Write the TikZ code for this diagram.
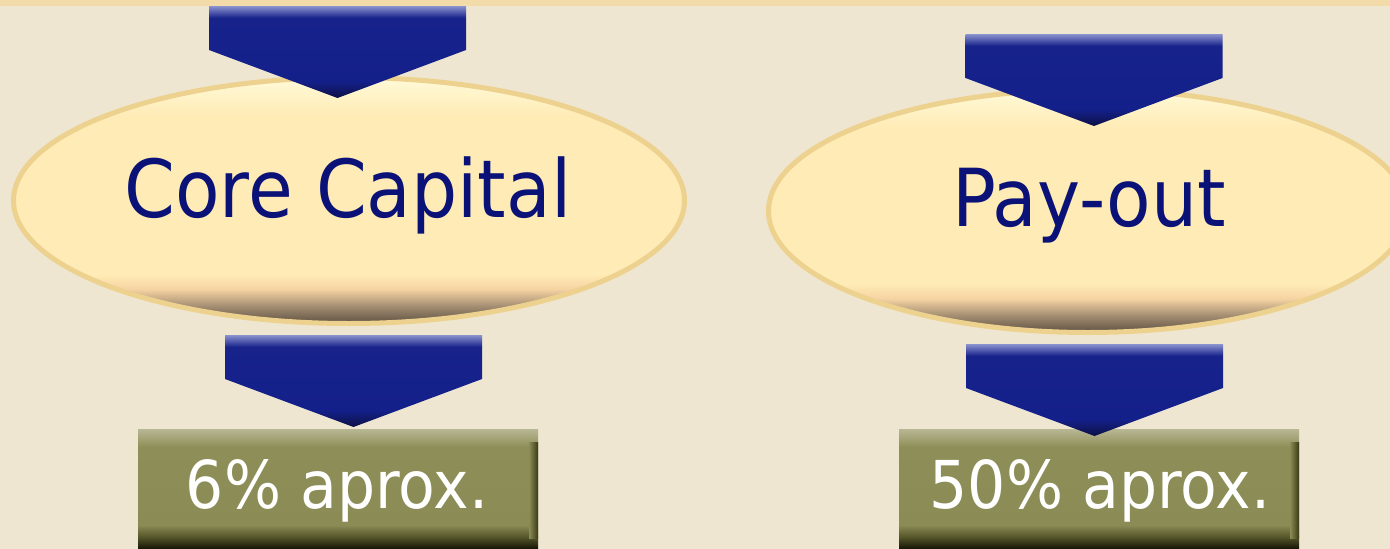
\documentclass[tikz,border=0pt]{standalone}
\usepackage{fontspec}
\setmainfont{DejaVu Sans}[FakeStretch=0.91]
\usetikzlibrary{shapes.geometric}
\definecolor{bg}{HTML}{EFE6D1}
\definecolor{band}{HTML}{F2DBA9}
\definecolor{navy}{HTML}{0A1277}
\definecolor{ellborder}{HTML}{EDD18F}
\definecolor{ellA}{HTML}{FFFAD8}
\definecolor{ellB}{HTML}{FFEBB5}
\definecolor{ellC}{HTML}{F6D3A2}
\definecolor{ellD}{HTML}{A38D72}
\definecolor{ellE}{HTML}{5E5040}
\definecolor{arrA}{HTML}{8B93CE}
\definecolor{arrB}{HTML}{17228B}
\definecolor{arrC}{HTML}{14208A}
\definecolor{arrD}{HTML}{0C1045}
\definecolor{boxA}{HTML}{B8B794}
\definecolor{boxB}{HTML}{8E8F58}
\definecolor{boxC}{HTML}{8A8B55}
\definecolor{boxD}{HTML}{55552A}
\definecolor{boxE}{HTML}{141405}
\definecolor{edgeA}{HTML}{3A3A16}
\pgfdeclareverticalshading{ellshade}{100bp}{color(0bp)=(ellE); color(25bp)=(ellE); color(28.5bp)=(ellD); color(32bp)=(ellC); color(35bp)=(ellB); color(67bp)=(ellB); color(75bp)=(ellA); color(100bp)=(ellA)}
\pgfdeclareverticalshading{arrowshade}{100bp}{color(0bp)=(arrD); color(25bp)=(arrD); color(34bp)=(arrC); color(68.5bp)=(arrB); color(75bp)=(arrA); color(100bp)=(arrA)}
\pgfdeclareverticalshading{boxshade}{100bp}{color(0bp)=(boxE); color(25bp)=(boxE); color(30bp)=(boxD); color(35bp)=(boxC); color(67.5bp)=(boxB); color(75bp)=(boxA); color(100bp)=(boxA)}
\tikzset{
  ellnode/.style={ellipse, draw=ellborder, line width=5pt, shading=ellshade, inner sep=0pt},
  greenbox/.style={rectangle, shading=boxshade, minimum width=400pt, minimum height=120pt, inner sep=0pt},
  bigtext/.style={anchor=base, text=navy, font=\fontsize{80}{96}\selectfont},
  boxtext/.style={anchor=base, text=white, font=\fontsize{66}{80}\selectfont},
  blockarrow/.pic={\shade[shading=arrowshade] (0,0) -- (257,0) -- (257,44) -- (128.5,92) -- (0,44) -- cycle;}
}
\begin{document}
\begin{tikzpicture}[x=1pt,y=-1pt]
\useasboundingbox (0,0) rectangle (1390,549);
\clip (0,0) rectangle (1390,549);
\fill[bg] (0,0) rectangle (1390,549);
% left column
\node[ellnode, minimum width=671pt, minimum height=246pt] (e1) at (349,200.5) {};
\node[bigtext] (t1) at (348,217) {Core Capital};
\pic at (209,6) {blockarrow};
\node[greenbox] (b1) at (338,489) {};
\shade[left color=boxC, right color=edgeA] (529,442) rectangle (538,538);
\pic at (225,335) {blockarrow};
\node[boxtext] (bt1) at (337,508) {6\% aprox.};
% right column
\node[ellnode, minimum width=639pt, minimum height=243pt] (e2) at (1088,211) {};
\node[bigtext] (t2) at (1089,226) {Pay-out};
\pic at (965.5,34) {blockarrow};
\node[greenbox] (b2) at (1099,489) {};
\shade[left color=boxC, right color=edgeA] (1290,442) rectangle (1299,538);
\pic at (966,344) {blockarrow};
\node[boxtext] (bt2) at (1100,508) {50\% aprox.};
% top band
\fill[band] (0,0) rectangle (1390,6);
\end{tikzpicture}
\end{document}
